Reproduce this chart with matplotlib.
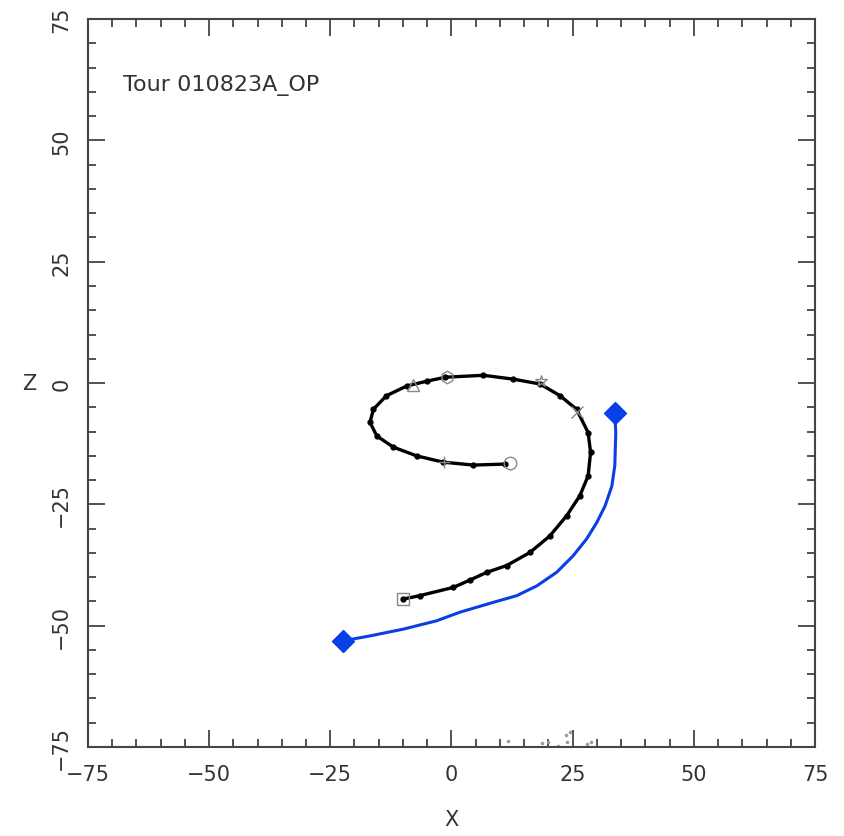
import matplotlib.pyplot as plt
from matplotlib.ticker import MultipleLocator

# black track (X, Z)
track_x = [-9.9, -6.5, 0.4, 3.8, 7.3, 11.4, 16.2, 20.3, 23.8, 26.5, 28.2, 28.7, 28.2, 25.8, 22.4,
           18.3, 12.8, 6.6, -1.3, -5.0, -9.2, -13.4, -16.1, -16.8, -15.4, -12.0, -7.2, -1.7, 4.5, 11.0]
track_z = [-44.5, -43.8, -42.1, -40.6, -39.0, -37.6, -34.9, -31.5, -27.3, -23.2, -19.1, -14.3, -10.2,
           -5.4, -2.6, -0.2, 0.8, 1.6, 1.2, 0.4, -0.6, -2.6, -5.4, -8.1, -10.9, -13.2, -15.0, -16.3,
           -16.9, -16.7]

# blue fitted path
fit_x = [33.7, 33.9, 33.7, 33.1, 31.7, 30.0, 27.9, 25.1, 21.7, 17.6, 13.5, 8.6, 1.8, -3.1,
         -9.9, -16.8, -22.3]
fit_z = [-6.2, -10.2, -17.0, -21.2, -25.3, -28.7, -32.1, -35.6, -39.0, -41.8, -43.8, -45.2,
         -47.2, -49.0, -50.7, -52.1, -53.1]

# symbols along the track
sym_x = [-10.0, -8.0, -1.0, 18.5, 26.0, -1.5, 12.0]
sym_z = [-44.5, -0.3, 1.2, 0.5, -6.0, -16.2, -16.4]
sym_m = ['s', '^', 'h', '*', 'x', '+', 'o']

# stray points near bottom
stray_x = [11.7, 18.6, 19.9, 22.0, 23.6, 24.4, 23.9, 27.9, 28.7]
stray_z = [-73.7, -74.2, -74.0, -74.7, -72.5, -71.9, -73.9, -74.3, -73.9]

plt.figure(figsize=(8.45, 8.37), dpi=100)
ax = plt.axes([0.104, 0.1063, 0.8605, 0.8697])

ax.plot(track_x, track_z, '-', color='black', lw=2.4, marker='o', ms=3.5)
for x, z, m in zip(sym_x, sym_z, sym_m):
    ax.plot(x, z, marker=m, ms=9, mfc='none', mec='#888888', mew=1, ls='none')
ax.plot(stray_x, stray_z, '.', color='#999999', ms=3)

ax.plot(fit_x, fit_z, '-', color='#0a3ee6', lw=2.2)
ax.plot([fit_x[0], fit_x[-1]], [fit_z[0], fit_z[-1]], 'D', color='#0a3ee6', ms=11, ls='none')

ax.text(-67.8, 61.6, 'Tour 010823A_OP', fontsize=16, color='#333333', va='center')

ax.set_xlim(-75, 75)
ax.set_ylim(-75, 75)
ax.xaxis.set_major_locator(MultipleLocator(25))
ax.yaxis.set_major_locator(MultipleLocator(25))
ax.xaxis.set_minor_locator(MultipleLocator(5))
ax.yaxis.set_minor_locator(MultipleLocator(5))
ax.tick_params(which='both', direction='in', top=True, right=True, color='#444444', width=1.3,
               labelsize=15, labelcolor='#333333')
ax.tick_params(which='major', length=12, pad=12)
ax.tick_params(which='minor', length=6)
for lbl in ax.get_yticklabels():
    lbl.set_rotation(90)
    lbl.set_va('center')
for s in ax.spines.values():
    s.set_color('#444444')
    s.set_linewidth(1.5)

ax.set_xlabel('X', fontsize=15, color='#333333', labelpad=18)
ax.set_ylabel('Z', fontsize=15, color='#333333', rotation=0, labelpad=16, va='center')

plt.savefig('out.png')
